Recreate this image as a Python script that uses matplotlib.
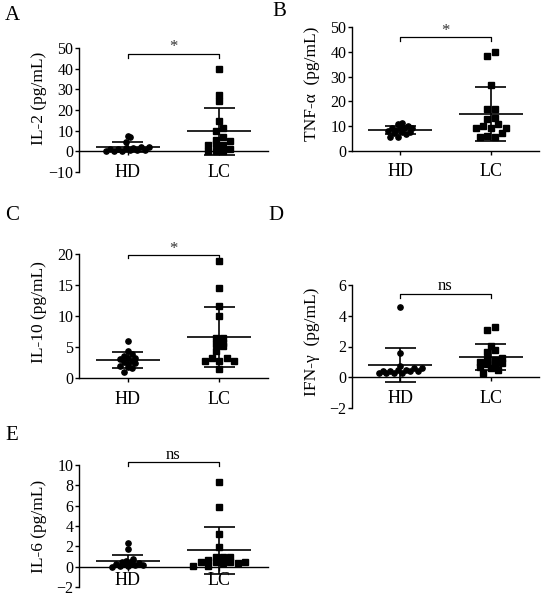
import numpy as np
import matplotlib
matplotlib.use("Agg")
import matplotlib.pyplot as plt

plt.rcParams["font.family"] = ["Liberation Serif", "DejaVu Serif"]

GROUPS = ["HD", "LC"]

# values (pg/mL)
IL2_HD = [7.3, 6.8, 4.5, 2.2, 2.0, 1.6, 1.4, 1.2, 1.0, 0.8, 0.6, 0.5, 0.4, 0.3, 0.2]
IL2_LC = [39.8, 27.1, 24.5, 14.7, 11.1, 9.8, 6.9, 5.0, 5.6, 3.0, 3.0, 3.4, 0.1, 0.1, 0.4, 1.3]

TNF_HD = [11.4, 10.9, 10.1, 10.1, 9.3, 9.3, 9.3, 8.5, 8.1, 7.5, 7.5, 7.2, 6.8, 5.8, 5.8]
TNF_LC = [40.1, 38.4, 26.7, 16.8, 16.8, 13.1, 13.3, 10.2, 9.2, 9.2, 9.2, 11.0, 6.2, 5.5, 5.5, 7.1]

IL10_HD = [6.0, 4.4, 3.8, 3.5, 3.2, 3.3, 3.0, 2.8, 2.6, 2.4, 2.2, 2.0, 1.8, 1.6, 1.0]
IL10_LC = [18.8, 14.5, 11.6, 10.0, 6.5, 6.5, 5.5, 5.1, 5.6, 4.4, 3.2, 3.3, 2.7, 2.7, 2.7, 1.5]

IFNG_HD = [4.6, 1.6, 0.7, 0.6, 0.5, 0.4, 0.4, 0.4, 0.3, 0.3, 0.3, 0.3, 0.4, 0.5, 0.6]
IFNG_LC = [3.3, 3.05, 2.05, 1.65, 1.75, 1.25, 1.2, 1.1, 1.0, 0.9, 0.85, 0.8, 0.67, 0.6, 0.5, 0.28]

IL6_HD = [2.3, 1.7, 0.8, 0.6, 0.5, 0.5, 0.4, 0.4, 0.3, 0.3, 0.2, 0.2, 0.1, 0.1, 0.0]
IL6_LC = [8.3, 5.9, 3.2, 1.9, 1.0, 1.0, 1.0, 0.7, 0.45, 0.45, 0.45, 0.45, 0.4, 0.4, 0.1, 0.05]

LETTERS = ["A", "B", "C", "D", "E"]
YLABELS = ["IL-2 (pg/mL)", "TNF-\u03b1  (pg/mL)", "IL-10 (pg/mL)",
           "IFN-\u03b3  (pg/mL)", "IL-6 (pg/mL)"]
YTICKS = [np.arange(-10, 51, 10), np.arange(0, 51, 10), np.arange(0, 21, 5),
          np.arange(-2, 7, 2), np.arange(-2, 11, 2)]
SIG = ["*", "*", "*", "ns", "ns"]
DATA = [(IL2_HD, IL2_LC), (TNF_HD, TNF_LC), (IL10_HD, IL10_LC),
        (IFNG_HD, IFNG_LC), (IL6_HD, IL6_LC)]

W, H = 543, 597
# layout in pixels: left, right, top(y of ymax), bottom(y of ymin)
RECTS = [(79, 268, 48, 172), (352, 539, 27, 151), (79, 268, 254, 378),
         (352, 539, 285, 408), (79, 268, 465, 587)]
LETTER_POS = [(12, 15), (279, 11), (12, 215), (276, 215), (12, 436)]
# bracket: (bar value, end value, text value)
BRACKETS = [(47.3, 45.3, 50.5), (45.8, 44.2, 48.2), (19.9, 19.3, 20.8),
            (5.4, 5.14, 5.95), (10.3, 9.93, 11.0)]
LABEL_Y = [0.593, 0.538, 0.53, 0.54, 0.5]
XPAD = [6, 6, 6, 6, 1]


def rows_scatter(ax, vals, centre, step_px, row_px=5.0):
    """GraphPad-like spread: group points into rows from the bottom up,
    then spread each row symmetrically about the centre (zig-zag order)."""
    vals = np.asarray(vals, dtype=float)
    tr = ax.transData
    pts = tr.transform(np.c_[np.full(len(vals), centre), vals])
    x0, ys = pts[0, 0], pts[:, 1]
    groups, row, start = [], [], None
    for i in np.argsort(vals, kind="stable"):
        if start is None or ys[i] - start > row_px:
            if row:
                groups.append(row)
            row, start = [i], ys[i]
        else:
            row.append(i)
    groups.append(row)

    xs = np.zeros(len(vals))
    for g in groups:
        n = len(g)
        half = (n + 1) // 2
        low, high = g[:half], g[half:]
        seq = []
        for k in range(half):
            seq.append(low[k])
            if k < len(high):
                seq.append(high[k])
        offs = (np.arange(n) - (n - 1) / 2) * step_px
        for i, o in zip(seq, offs):
            xs[i] = x0 + o
    return tr.inverted().transform(np.c_[xs, ys])[:, 0]


fig = plt.figure(figsize=(W / 100, H / 100), dpi=100)

for p in range(5):
    l, r, t, b = RECTS[p]
    ax = fig.add_axes([l / W, 1 - b / H, (r - l) / W, (b - t) / H])
    yt = YTICKS[p]
    ax.set_xlim(-0.53, 1.53)
    ax.set_ylim(yt[0], yt[-1])

    hd, lc = DATA[p]
    for c, (vals, mk, step) in enumerate([(hd, "o", 3.9), (lc, "s", 7.4)]):
        xs = rows_scatter(ax, vals, c, step)
        ax.plot(xs, vals, ls="none", marker=mk, ms=3.8, color="black",
                mec="black", clip_on=False, zorder=3)
        m = np.mean(vals)
        s = np.std(vals, ddof=1)
        ax.hlines(m, c - 0.35, c + 0.35, color="black", lw=1.2, zorder=4)
        ax.hlines([m - s, m + s], c - 0.17, c + 0.17, color="black", lw=1.2, zorder=4)
        ax.vlines(c, m - s, m + s, color="black", lw=1.2, zorder=4)

    bar, end, txt = BRACKETS[p]
    ax.plot([0, 0, 1, 1], [end, bar, bar, end], color="black", lw=0.9, clip_on=False)
    if SIG[p] == "*":
        ax.text(0.5, txt, "*", ha="center", va="center", fontsize=12, color="#333333")
    else:
        ax.text(0.5, txt, "ns", ha="center", va="center", fontsize=12)

    for side in ["top", "right"]:
        ax.spines[side].set_visible(False)
    ax.spines["bottom"].set_position(("data", 0))
    ax.spines["left"].set_linewidth(1.0)
    ax.spines["bottom"].set_linewidth(1.0)
    ax.set_yticks(yt)
    ax.set_xticks([0, 1])
    ax.set_xticklabels(GROUPS)
    ax.tick_params(axis="y", direction="out", length=3, width=1.0, labelsize=11.5, pad=1)
    ax.tick_params(axis="x", direction="out", length=3, width=1.0, labelsize=13,
                   pad=XPAD[p])
    ax.set_ylabel(YLABELS[p], fontsize=12.5)
    ax.yaxis.set_label_coords(-0.17, LABEL_Y[p])

    lx, ly = LETTER_POS[p]
    fig.text(lx / W, 1 - ly / H, LETTERS[p], ha="center", va="center", fontsize=15)

fig.savefig("out.png", dpi=100)
